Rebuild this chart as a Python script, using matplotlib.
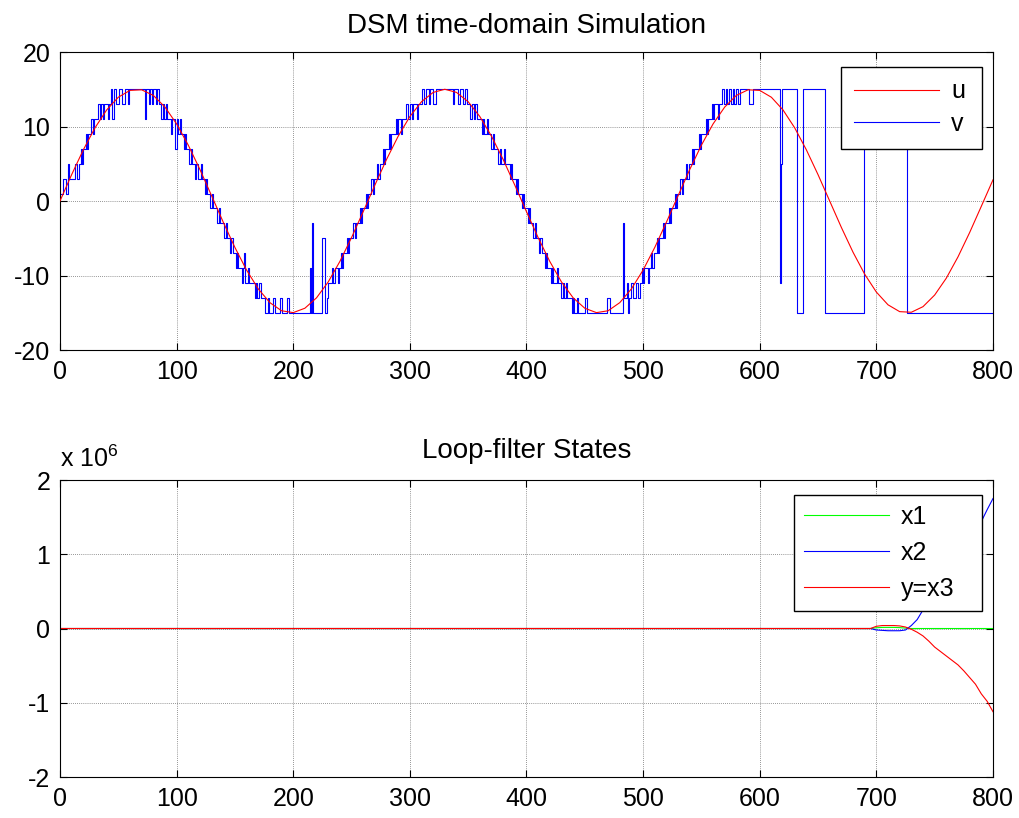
import numpy as np
import matplotlib
matplotlib.use('Agg')
import matplotlib.pyplot as plt

plt.rcParams['font.family'] = ['Liberation Sans', 'DejaVu Sans']
plt.rcParams['mathtext.fontset'] = 'custom'
plt.rcParams['mathtext.rm'] = 'Liberation Sans'
plt.rcParams['axes.unicode_minus'] = False

# input u, read every 10 samples
u_n = np.arange(0, 801, 10)
u_vals = [0.0, 3.54, 6.87, 9.82, 12.22, 13.93, 14.85, 14.93, 14.18, 12.62,
          10.35, 7.5, 4.23, 0.71, -2.84, -6.23, -9.27, -11.79, -13.64, -14.73,
          -14.98, -14.39, -12.99, -10.86, -8.11, -4.91, -1.43, 2.13, 5.58, 8.70,
          11.34, 13.33, 14.58, 15.0, 14.58, 13.33, 11.34, 8.70, 5.58, 2.13,
          -1.43, -4.91, -8.11, -10.86, -12.99, -14.39, -14.98, -14.73, -13.64, -11.79,
          -9.27, -6.23, -2.84, 0.71, 4.23, 7.5, 10.35, 12.62, 14.18, 14.93,
          14.85, 13.93, 12.22, 9.82, 6.87, 3.54, 0.0, -3.54, -6.87, -9.82,
          -12.22, -13.93, -14.85, -14.93, -14.18, -12.62, -10.35, -7.5, -4.23, -0.71,
          2.84]

# quantizer output v as (start sample, level) runs
v_runs = [
    (0, 1), (3, 3), (5, 1), (7, 5), (8, 3), (13, 5), (15, 3), (16, 5), (18, 7), (19, 5),
    (20, 7), (22, 9), (23, 7), (24, 9), (27, 11), (28, 9), (29, 11), (33, 13), (34, 11), (35, 13),
    (37, 11), (38, 13), (41, 11), (42, 13), (44, 15), (45, 11), (46, 15), (48, 13), (51, 15), (53, 13),
    (56, 15), (58, 13), (59, 15),
    (73, 11), (74, 15), (76, 13), (77, 15), (79, 13), (80, 15), (82, 13), (83, 15), (85, 13), (87, 11),
    (88, 13), (89, 11), (91, 13), (92, 11), (95, 9), (96, 11), (99, 7), (100, 11), (101, 9), (103, 11),
    (104, 9), (106, 7), (107, 9), (108, 7), (111, 5), (112, 7), (113, 5), (116, 3), (117, 5), (118, 3),
    (121, 5), (122, 3), (124, 1), (125, 3), (126, 1), (129, -1), (130, 1), (131, -1), (135, -3), (136, -1),
    (137, -3), (141, -5), (142, -3), (143, -5), (146, -7), (147, -5), (148, -7), (151, -9), (152, -7), (153, -9),
    (156, -11), (157, -9), (158, -7), (159, -11), (161, -9), (162, -11), (167, -13), (168, -11), (169, -13), (171, -11),
    (172, -13), (176, -15), (178, -13), (179, -15), (183, -13), (184, -15), (189, -13), (190, -15), (195, -13), (196, -15),
    (214, -9), (215, -15), (216, -3), (217, -15), (225, -5), (227, -15),
    (229, -13), (230, -11), (233, -9), (234, -11), (236, -9), (238, -11), (239, -9), (241, -7), (242, -9), (243, -7),
    (246, -5), (247, -7), (248, -5), (251, -3), (253, -5), (254, -3), (257, -1), (258, -3), (259, -1), (262, 1),
    (263, -1), (264, 1), (267, 3), (268, 1), (269, 3), (272, 5), (273, 3), (274, 5), (277, 7), (278, 5),
    (279, 7), (282, 9), (283, 7), (284, 9), (288, 11), (289, 9), (290, 11), (292, 9), (293, 11), (297, 13),
    (298, 11), (300, 13), (302, 11), (303, 13), (306, 11), (307, 13), (310, 15), (312, 13), (314, 15), (316, 13),
    (317, 15), (320, 13), (322, 15),
    (337, 13), (338, 15), (341, 13), (343, 15), (346, 13), (347, 15), (349, 13), (352, 11), (353, 13), (355, 11),
    (356, 13), (358, 11), (362, 9), (363, 11), (364, 9), (366, 11), (367, 9), (370, 7), (371, 9), (372, 7),
    (376, 5), (377, 7), (378, 5), (381, 7), (382, 5), (386, 3), (387, 5), (388, 3), (391, 1), (392, 3),
    (393, 1), (396, -1), (397, 1), (398, -1), (401, -3), (402, -1), (403, -3), (406, -5), (407, -3), (408, -5),
    (411, -7), (412, -5), (413, -7), (416, -9), (417, -7), (418, -9), (421, -11), (422, -9), (423, -11), (426, -9),
    (427, -11), (430, -13), (431, -11), (432, -13), (434, -11), (435, -13), (439, -15), (440, -13), (441, -15), (443, -13),
    (444, -15), (450, -13), (452, -15), (469, -13), (472, -15), (483, -3), (484, -13), (486, -11), (487, -15), (488, -13),
    (490, -11), (491, -13), (494, -11), (496, -13), (497, -11),
    (499, -9), (500, -11), (501, -9), (504, -11), (505, -9), (507, -7), (508, -9), (509, -7), (512, -5), (513, -7),
    (514, -5), (517, -3), (518, -5), (519, -3), (522, -1), (523, -3), (524, -1), (527, 1), (528, -1), (529, 1),
    (532, 3), (533, 1), (534, 3), (537, 5), (538, 3), (539, 5), (542, 7), (543, 5), (544, 7), (548, 9),
    (549, 7), (550, 9), (554, 11), (555, 9), (556, 11), (559, 13), (560, 11), (561, 13), (564, 11), (565, 13),
    (568, 15), (569, 13), (571, 15), (572, 13), (574, 15), (575, 13), (577, 15), (578, 13), (580, 15), (581, 13),
    (583, 15), (591, 13), (594, 15),
    (617, -11), (618, 5), (619, 15), (632, -15), (637, 15), (656, -15), (689, 15), (726, -15),
]
n_end = 800

# loop-filter states, read at these samples
state_n = [0, 695, 700, 705, 710, 715, 720, 725, 730, 735, 740, 745,
           750, 755, 760, 765, 770, 775, 780, 785, 790, 795, 800]
x1 = [0, 0, 10e3, 15e3, 15e3, 15e3, 12e3, 5e3, 0, 0, 0, 0,
      0, 0, 0, 0, 0, 0, 0, 0, 0, 0, 0]
x2 = [0, 0, -20e3, -25e3, -30e3, -30e3, -30e3, -20e3, 40e3, 120e3, 250e3, 370e3,
      500e3, 620e3, 750e3, 870e3, 1.0e6, 1.1e6, 1.2e6, 1.3e6, 1.44e6, 1.6e6, 1.75e6]
x3 = [0, 0, 30e3, 40e3, 40e3, 40e3, 35e3, 20e3, -10e3, -50e3, -100e3, -170e3,
      -250e3, -310e3, -370e3, -430e3, -490e3, -570e3, -660e3, -750e3, -880e3, -980e3, -1.12e6]

v_start = [r[0] for r in v_runs] + [n_end]
v_level = [r[1] for r in v_runs]
v_level = v_level + [v_level[-1]]

fig = plt.figure(figsize=(10.2, 8.18), dpi=100)
ax1 = fig.add_axes([0.0588, 0.5721, 0.9147, 0.3643])
ax2 = fig.add_axes([0.0588, 0.0501, 0.9147, 0.3631])

def style(ax):
    ax.set_xlim(0, 800)
    ax.set_xticks(np.arange(0, 801, 100))
    ax.tick_params(direction='in', top=True, right=True, length=5, width=0.8,
                   labelsize=18, pad=7, colors='black')
    ax.grid(True, color='0.45', linestyle=(0, (1, 1.5)), linewidth=0.6)
    for s in ax.spines.values():
        s.set_linewidth(0.8)
        s.set_color('black')

# top: time-domain
ax1.step(v_start, v_level, where='post', color='#0000ff', linewidth=0.8, label='v', zorder=2)
ax1.plot(u_n, u_vals, color='#ff0000', linewidth=0.8, label='u', zorder=3)
ax1.set_ylim(-20, 20)
ax1.set_yticks([-20, -10, 0, 10, 20])
style(ax1)
ax1.set_title('DSM time-domain Simulation', fontsize=20, pad=14)
h, l = ax1.get_legend_handles_labels()
leg1 = ax1.legend([h[1], h[0]], [l[1], l[0]], loc='upper right',
                  bbox_to_anchor=(0.8375, 0.0, 0.1505, 0.95), mode='expand',
                  borderaxespad=0, fancybox=False, edgecolor='black', framealpha=1,
                  fontsize=18, handlelength=3.4, handletextpad=0.5,
                  borderpad=0.5, labelspacing=0.35)
leg1.get_frame().set_linewidth(1.0)

# bottom: loop-filter states
ax2.plot(state_n, x1, color='#00ff00', linewidth=0.8, label='x1')
ax2.plot(state_n, x2, color='#0000ff', linewidth=0.8, label='x2')
ax2.plot(state_n, x3, color='#ff0000', linewidth=0.8, label='y=x3')
ax2.set_ylim(-2e6, 2e6)
ax2.set_yticks([-2e6, -1e6, 0, 1e6, 2e6])
ax2.set_yticklabels(['-2', '-1', '0', '1', '2'])
style(ax2)
ax2.set_title('Loop-filter States', fontsize=20, pad=16)
ax2.text(0.0, 1.044, 'x 10$^{6}$', transform=ax2.transAxes, fontsize=18,
         ha='left', va='baseline')
leg2 = ax2.legend(loc='upper right', bbox_to_anchor=(0.787, 0.0, 0.201, 0.949),
                  mode='expand', borderaxespad=0, fancybox=False, edgecolor='black',
                  framealpha=1, fontsize=18, handlelength=3.4, handletextpad=0.45,
                  borderpad=0.4, labelspacing=0.48)
leg2.get_frame().set_linewidth(1.0)

fig.savefig('out.png', dpi=100, facecolor='white')
